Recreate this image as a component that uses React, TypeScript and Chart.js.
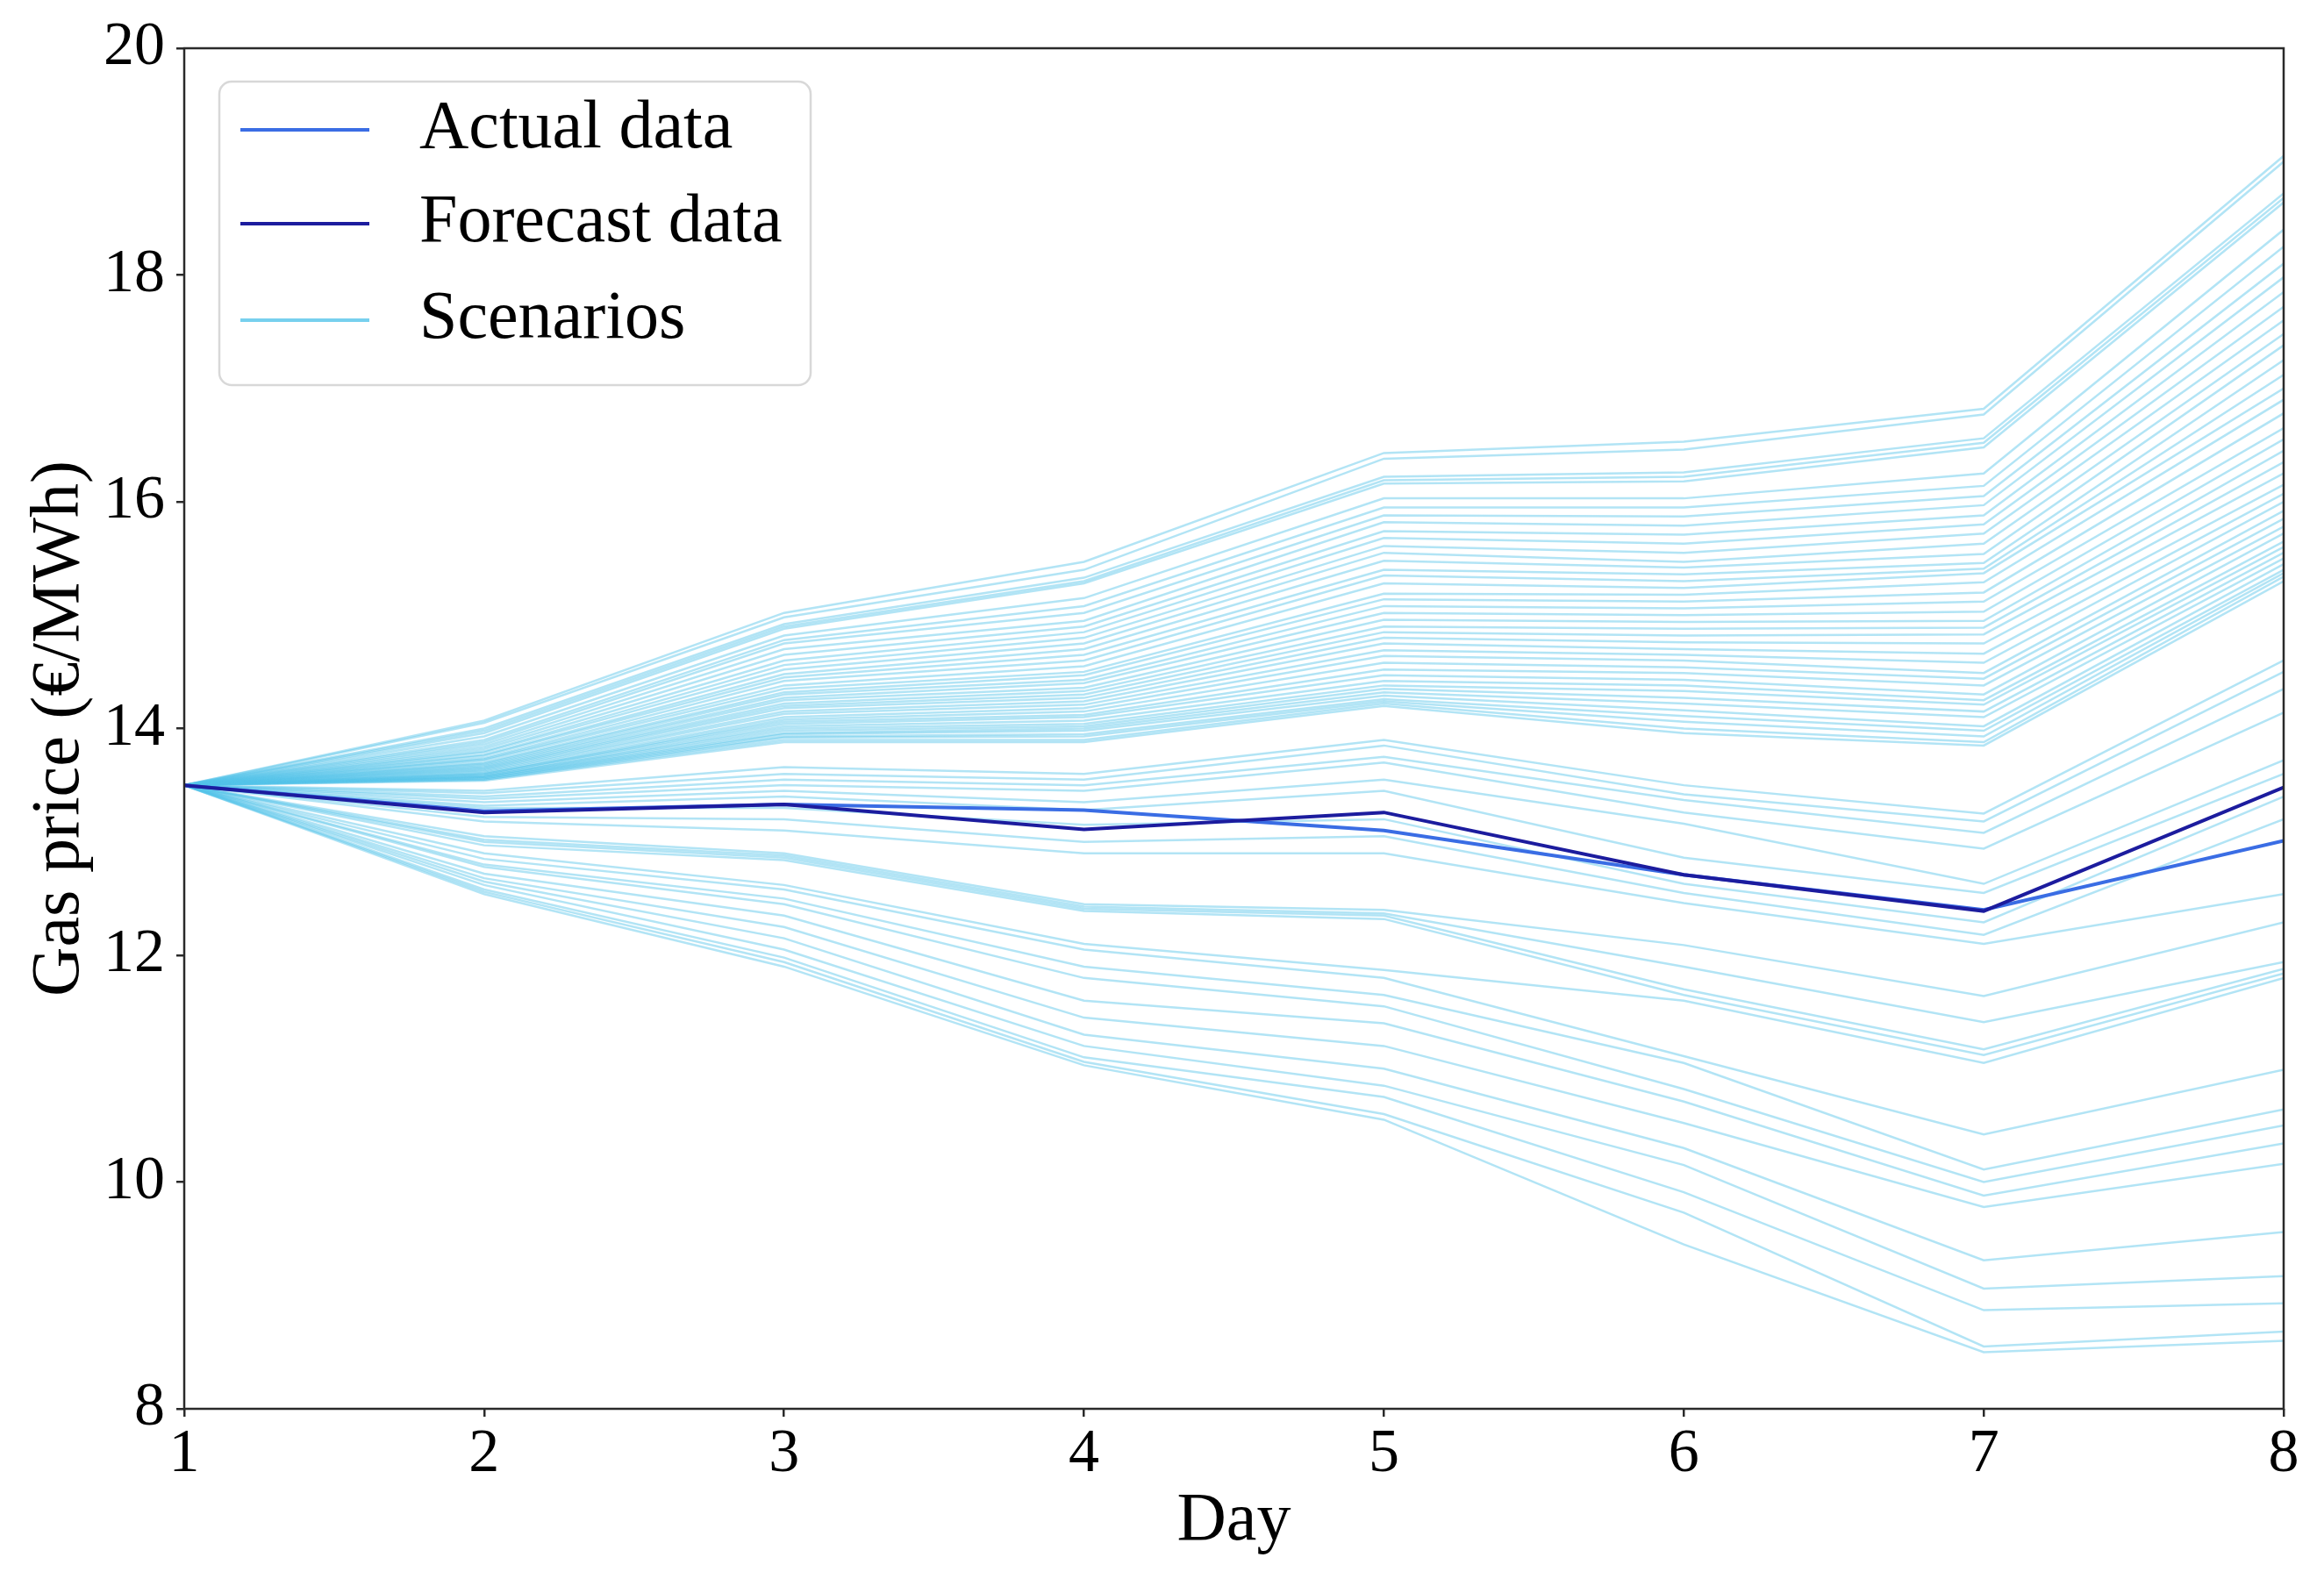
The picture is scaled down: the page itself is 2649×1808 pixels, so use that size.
import React, { useEffect, useRef } from "react";
import { Chart, registerables } from "chart.js";

Chart.register(...registerables);

const FONT = '"Liberation Serif", "Times New Roman", serif';

// ---- data ----
const days = [1, 2, 3, 4, 5, 6, 7, 8];
const xTicks = [1, 2, 3, 4, 5, 6, 7, 8];
const yTicks = [8, 10, 12, 14, 16, 18, 20];

const actualData = [13.5, 13.27, 13.33, 13.28, 13.1, 12.71, 12.4, 13.01];
const forecastData = [13.5, 13.26, 13.33, 13.11, 13.26, 12.71, 12.39, 13.48];

// all scenarios start from the same price on day 1
const scenarioStart = 13.5;

// upper group of scenarios, value of each scenario on day N (ranked)
const upperDay2 = [14.07, 14.05, 14.0, 13.98, 13.96, 13.93, 13.9, 13.88, 13.86, 13.84, 13.82, 13.8, 13.79, 13.77, 13.76, 13.74, 13.73, 13.72, 13.7, 13.69, 13.68, 13.67, 13.66, 13.65, 13.64, 13.63, 13.62, 13.61, 13.6, 13.6, 13.59, 13.58, 13.58, 13.57, 13.57, 13.56, 13.56, 13.55, 13.55, 13.54];
const upperDay3 = [15.02, 14.98, 14.92, 14.9, 14.88, 14.82, 14.78, 14.75, 14.7, 14.65, 14.6, 14.56, 14.52, 14.48, 14.45, 14.42, 14.38, 14.35, 14.32, 14.3, 14.27, 14.25, 14.22, 14.2, 14.18, 14.15, 14.13, 14.1, 14.08, 14.06, 14.04, 14.02, 14.0, 13.98, 13.96, 13.95, 13.93, 13.92, 13.9, 13.88];
const upperDay4 = [15.47, 15.4, 15.33, 15.3, 15.28, 15.15, 15.08, 15.02, 14.95, 14.9, 14.85, 14.8, 14.75, 14.7, 14.65, 14.6, 14.55, 14.5, 14.47, 14.43, 14.4, 14.36, 14.33, 14.3, 14.27, 14.24, 14.21, 14.18, 14.15, 14.12, 14.1, 14.07, 14.04, 14.02, 14.0, 13.98, 13.95, 13.93, 13.9, 13.88];
const upperDay5 = [16.43, 16.38, 16.22, 16.19, 16.16, 16.03, 15.95, 15.88, 15.82, 15.74, 15.68, 15.61, 15.55, 15.48, 15.4, 15.35, 15.28, 15.19, 15.14, 15.08, 15.02, 14.96, 14.9, 14.85, 14.8, 14.75, 14.69, 14.64, 14.58, 14.52, 14.47, 14.42, 14.38, 14.35, 14.32, 14.29, 14.26, 14.24, 14.22, 14.2];
const upperDay6 = [16.53, 16.46, 16.26, 16.22, 16.18, 16.03, 15.95, 15.87, 15.79, 15.71, 15.63, 15.55, 15.47, 15.42, 15.36, 15.3, 15.24, 15.18, 15.12, 15.06, 15.0, 14.94, 14.88, 14.82, 14.76, 14.7, 14.65, 14.6, 14.54, 14.49, 14.43, 14.38, 14.33, 14.27, 14.22, 14.16, 14.11, 14.06, 14.0, 13.96];
const upperDay7 = [16.82, 16.77, 16.56, 16.52, 16.48, 16.25, 16.14, 16.05, 15.97, 15.88, 15.8, 15.72, 15.63, 15.54, 15.46, 15.41, 15.37, 15.29, 15.2, 15.12, 15.03, 14.95, 14.89, 14.83, 14.75, 14.66, 14.58, 14.49, 14.44, 14.38, 14.3, 14.25, 14.21, 14.15, 14.1, 14.02, 13.98, 13.93, 13.88, 13.85];
const upperDay8 = [19.05, 19.0, 18.72, 18.68, 18.64, 18.4, 18.25, 18.1, 17.98, 17.85, 17.72, 17.6, 17.48, 17.38, 17.25, 17.12, 17.0, 16.9, 16.78, 16.65, 16.55, 16.45, 16.35, 16.25, 16.15, 16.07, 16.0, 15.92, 15.85, 15.78, 15.72, 15.65, 15.6, 15.55, 15.5, 15.45, 15.4, 15.37, 15.34, 15.3];

// lower group of scenarios
const lowerDay2 = [13.45, 13.43, 13.4, 13.38, 13.35, 13.32, 13.3, 13.22, 13.18, 13.05, 13.02, 13.0, 12.97, 12.9, 12.85, 12.8, 12.78, 12.72, 12.68, 12.65, 12.62, 12.58, 12.56, 12.54];
const lowerDay3 = [13.66, 13.6, 13.55, 13.5, 13.45, 13.4, 13.3, 13.2, 13.1, 12.9, 12.88, 12.86, 12.84, 12.62, 12.58, 12.5, 12.45, 12.35, 12.25, 12.15, 12.05, 11.98, 11.94, 11.9];
const lowerDay4 = [13.6, 13.55, 13.5, 13.45, 13.35, 13.28, 13.15, 13.0, 12.9, 12.45, 12.43, 12.41, 12.39, 12.1, 12.05, 11.9, 11.8, 11.6, 11.45, 11.3, 11.2, 11.1, 11.06, 11.03];
const lowerDay5 = [13.9, 13.85, 13.75, 13.7, 13.55, 13.45, 13.2, 13.05, 12.9, 12.4, 12.37, 12.35, 12.32, 11.87, 11.8, 11.65, 11.55, 11.4, 11.2, 11.0, 10.85, 10.75, 10.6, 10.55];
const lowerDay6 = [13.5, 13.42, 13.37, 13.26, 13.16, 12.86, 12.63, 12.55, 12.46, 12.09, 11.9, 11.7, 11.65, 11.6, 11.11, 11.05, 10.82, 10.71, 10.52, 10.3, 10.15, 9.91, 9.73, 9.45];
const lowerDay7 = [13.25, 13.18, 13.08, 12.94, 12.63, 12.55, 12.29, 12.18, 12.1, 11.64, 11.41, 11.17, 11.12, 11.05, 10.42, 10.11, 10.0, 9.88, 9.78, 9.31, 9.06, 8.87, 8.55, 8.5];
const lowerDay8 = [14.6, 14.5, 14.35, 14.14, 13.72, 13.6, 13.4, 13.2, 12.54, 12.29, 11.94, 11.88, 11.84, 11.8, 10.99, 10.64, 10.5, 10.34, 10.16, 9.56, 9.17, 8.93, 8.68, 8.6];

const legendLabels = ["Actual data", "Forecast data", "Scenarios"];

// ---- styles ----
const ACTUAL_COLOR = "#3a6de4";
const FORECAST_COLOR = "#1c1c9e";
const SCENARIO_COLOR = "rgba(85,195,232,0.45)";
const SCENARIO_LEGEND_COLOR = "rgba(95,200,235,0.85)";
const AXIS_COLOR = "#2a2a2a";

export default function App() {
  const ref = useRef<HTMLCanvasElement>(null);

  useEffect(() => {
    if (!ref.current) return;

    const dayCols = [
      upperDay2.concat(lowerDay2),
      upperDay3.concat(lowerDay3),
      upperDay4.concat(lowerDay4),
      upperDay5.concat(lowerDay5),
      upperDay6.concat(lowerDay6),
      upperDay7.concat(lowerDay7),
      upperDay8.concat(lowerDay8),
    ];
    const nScen = dayCols[0].length;
    const scenarioSets: any[] = [];
    for (let i = 0; i < nScen; i++) {
      scenarioSets.push({
        label: "Scenarios",
        data: days.map((d, k) => ({ x: d, y: k === 0 ? scenarioStart : dayCols[k - 1][i] })),
        borderColor: SCENARIO_COLOR,
        borderWidth: 2.5,
        pointRadius: 0,
        fill: false,
        tension: 0,
      });
    }

    const framePlugin = {
      id: "frame",
      afterDatasetsDraw(chart: any) {
        const { ctx, chartArea } = chart;
        ctx.save();
        ctx.strokeStyle = AXIS_COLOR;
        ctx.lineWidth = 2.5;
        ctx.strokeRect(chartArea.left, chartArea.top, chartArea.right - chartArea.left, chartArea.bottom - chartArea.top);
        ctx.restore();
      },
    };

    const legendPlugin = {
      id: "boxLegend",
      afterDraw(chart: any) {
        const { ctx, chartArea } = chart;
        const bx = chartArea.left + 40;
        const by = chartArea.top + 38;
        const bw = 674;
        const bh = 346;
        const r = 14;
        ctx.save();
        ctx.beginPath();
        ctx.moveTo(bx + r, by);
        ctx.lineTo(bx + bw - r, by);
        ctx.arcTo(bx + bw, by, bx + bw, by + r, r);
        ctx.lineTo(bx + bw, by + bh - r);
        ctx.arcTo(bx + bw, by + bh, bx + bw - r, by + bh, r);
        ctx.lineTo(bx + r, by + bh);
        ctx.arcTo(bx, by + bh, bx, by + bh - r, r);
        ctx.lineTo(bx, by + r);
        ctx.arcTo(bx, by, bx + r, by, r);
        ctx.closePath();
        ctx.fillStyle = "rgba(255,255,255,0.85)";
        ctx.fill();
        ctx.strokeStyle = "#d8d8d8";
        ctx.lineWidth = 2.5;
        ctx.stroke();

        const rows = [93, 200, 310];
        const colors = [ACTUAL_COLOR, FORECAST_COLOR, SCENARIO_LEGEND_COLOR];
        ctx.font = `78px ${FONT}`;
        ctx.textBaseline = "middle";
        ctx.textAlign = "left";
        for (let i = 0; i < 3; i++) {
          const y = chartArea.top + rows[i];
          ctx.beginPath();
          ctx.strokeStyle = colors[i];
          ctx.lineWidth = 4;
          ctx.moveTo(chartArea.left + 64, y);
          ctx.lineTo(chartArea.left + 211, y);
          ctx.stroke();
          ctx.fillStyle = "#000";
          ctx.fillText(legendLabels[i], chartArea.left + 268, y);
        }
        ctx.restore();
      },
    };

    const chart = new Chart(ref.current, {
      type: "line",
      data: {
        datasets: [
          {
            label: "Forecast data",
            data: days.map((d, i) => ({ x: d, y: forecastData[i] })),
            borderColor: FORECAST_COLOR,
            borderWidth: 4,
            pointRadius: 0,
            fill: false,
            tension: 0,
          },
          {
            label: "Actual data",
            data: days.map((d, i) => ({ x: d, y: actualData[i] })),
            borderColor: ACTUAL_COLOR,
            borderWidth: 4,
            pointRadius: 0,
            fill: false,
            tension: 0,
          },
          ...scenarioSets,
        ],
      },
      options: {
        animation: false,
        responsive: true,
        maintainAspectRatio: false,
        layout: { padding: { left: 0, top: 52, right: 46, bottom: 0 } },
        plugins: {
          legend: { display: false },
          tooltip: { enabled: false },
          title: { display: false },
        },
        events: [],
        scales: {
          x: {
            type: "linear",
            min: 1,
            max: 8,
            afterBuildTicks: (axis: any) => {
              axis.ticks = xTicks.map((v) => ({ value: v }));
            },
            afterFit: (axis: any) => {
              axis.height = 202;
            },
            ticks: {
              color: "#000",
              font: { family: FONT, size: 70 },
              padding: 2,
              maxRotation: 0,
              autoSkip: false,
            },
            grid: {
              display: true,
              drawOnChartArea: false,
              drawTicks: true,
              tickLength: 9,
              color: AXIS_COLOR,
              lineWidth: 2.5,
            },
            border: { display: false },
            title: {
              display: true,
              text: "Day",
              color: "#000",
              font: { family: FONT, size: 78 },
              padding: { top: 0, bottom: 27 },
            },
          },
          y: {
            type: "linear",
            min: 8,
            max: 20,
            afterBuildTicks: (axis: any) => {
              axis.ticks = yTicks.map((v) => ({ value: v }));
            },
            afterFit: (axis: any) => {
              axis.width = 210;
            },
            ticks: {
              color: "#000",
              font: { family: FONT, size: 70 },
              padding: 13,
              autoSkip: false,
            },
            grid: {
              display: true,
              drawOnChartArea: false,
              drawTicks: true,
              tickLength: 9,
              color: AXIS_COLOR,
              lineWidth: 2.5,
            },
            border: { display: false },
            title: {
              display: true,
              text: "Gas price (€/MWh)",
              color: "#000",
              font: { family: FONT, size: 78 },
              padding: { top: 22, bottom: 0 },
            },
          },
        },
      },
      plugins: [framePlugin, legendPlugin],
    } as any);

    return () => chart.destroy();
  }, []);

  return (
    <div
      style={{
        position: "absolute",
        left: 0,
        top: 0,
        width: 2649,
        height: 1808,
        background: "#fff",
      }}
    >
      <canvas ref={ref} />
    </div>
  );
}
